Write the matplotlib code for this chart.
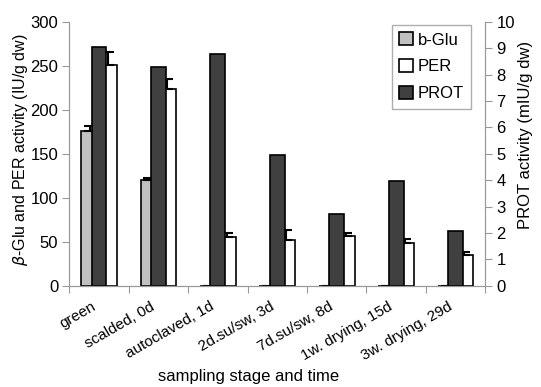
import matplotlib.pyplot as plt
from matplotlib.transforms import ScaledTranslation
import numpy as np

plt.rcParams['font.family'] = ['Liberation Sans', 'DejaVu Sans']

# dados
stages = ['green', 'scalded, 0d', 'autoclaved, 1d', '2d.su/sw, 3d',
          '7d.su/sw, 8d', '1w. drying, 15d', '3w. drying, 29d']
bglu = [176, 120, 0, 0, 0, 0, 0]
bglu_err = [6, 3, 0, 0, 0, 0, 0]
per = [251, 224, 55, 52, 57, 49, 35]
per_err = [15, 11, 4.5, 11, 3, 4, 3]
prot = [9.07, 8.28, 8.79, 4.95, 2.72, 3.96, 2.08]

grey = '#999999'
x = np.arange(len(stages))
w = 0.30

fig, ax = plt.subplots(figsize=(5.41, 3.87), dpi=100)
fig.subplots_adjust(left=0.128, right=0.897, top=0.943, bottom=0.262)

b1 = ax.bar(x - w/2, bglu, w, color='#c0c0c0', edgecolor='black', linewidth=1.2, label='b-Glu')
b2 = ax.bar(x + w/2, per, w, color='white', edgecolor='black', linewidth=1.2, label='PER')
ax.errorbar(x - w/2, bglu, yerr=[np.zeros(7), bglu_err], fmt='none', ecolor='black', elinewidth=1.5, capsize=4, capthick=1.5)
ax.errorbar(x + w/2, per, yerr=[np.zeros(7), per_err], fmt='none', ecolor='black', elinewidth=1.5, capsize=4, capthick=1.5)

ax.set_ylim(0, 300)
ax.set_xlim(-0.5, len(stages) - 0.5)
ax.set_yticks(np.arange(0, 301, 50))

ax2 = ax.twinx()
b3 = ax2.bar(x, prot, 0.25, color='#404040', edgecolor='black', linewidth=1.2, label='PROT')
ax2.set_ylim(0, 10)
ax2.set_yticks(np.arange(0, 11, 1))

for a in (ax, ax2):
    a.spines['top'].set_visible(False)
    for s in a.spines.values():
        s.set_color(grey)
    a.tick_params(axis='y', colors=grey, labelcolor='black', labelsize=12, length=5, pad=3)

ax.set_xticks(np.arange(-0.5, len(stages), 1))
ax.set_xticklabels([])
ax.set_xticks(x, minor=True)
ax.set_xticklabels(stages, minor=True, rotation=30, ha='right', rotation_mode='anchor', fontsize=11)
ax.tick_params(axis='x', which='major', colors=grey, length=5)
ax.tick_params(axis='x', which='minor', length=0, pad=10)
# rotulos um pouco a esquerda do centro, como no original
desloc = ScaledTranslation(-0.08, 0, fig.dpi_scale_trans)
for lbl in ax.get_xticklabels(minor=True):
    lbl.set_transform(lbl.get_transform() + desloc)

ax.set_xlabel('sampling stage and time', fontsize=12)
ax.xaxis.set_label_coords(0.43, -0.315)
ax.set_ylabel(r'$\it{\beta}$-Glu and PER activity (IU/g dw)', fontsize=11.5)
ax.yaxis.set_label_coords(-0.094, 0.515)
ax2.set_ylabel('PROT activity (mIU/g dw)', fontsize=12)
ax2.yaxis.set_label_coords(1.079, 0.57)

leg = ax2.legend([b1, b2, b3], ['b-Glu', 'PER', 'PROT'], loc='upper right',
                 bbox_to_anchor=(0.966, 0.989), borderaxespad=0, fontsize=12, frameon=True,
                 fancybox=False, edgecolor=grey, handlelength=0.8, handleheight=0.8,
                 handletextpad=0.3, labelspacing=0.7, borderpad=0.45)

plt.savefig('out.png', dpi=100)
